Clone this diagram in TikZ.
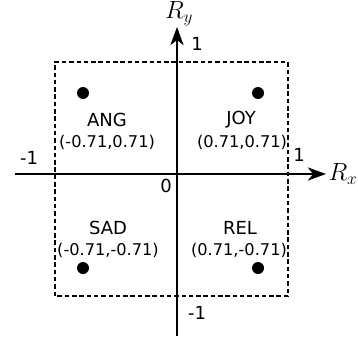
\documentclass[tikz,border=0pt]{standalone}
\usepackage{fontspec}
\setmainfont{DejaVu Sans}
\usetikzlibrary{arrows.meta}
\begin{document}
\begin{tikzpicture}[x=1pt,y=-1pt,
  axis/.style={line width=2.8pt,-{Stealth[length=18pt,width=13pt,inset=5pt]}},
  frame/.style={draw,line width=1.3pt,dash pattern=on 4.5pt off 2.8pt},
  dot/.style={circle,fill,inner sep=0pt,minimum size=12pt},
  emo/.style={font=\fontsize{18}{20}\selectfont,inner sep=0pt},
  crd/.style={font=\fontsize{16.2}{18}\selectfont,inner sep=0pt},
  tick/.style={font=\fontsize{18}{20}\selectfont,inner sep=0pt},
  axlab/.style={font=\fontsize{23}{25}\selectfont,inner sep=0pt}]
\useasboundingbox (0,0) rectangle (358,337);
\coordinate (bl) at (55,296);
\coordinate (tr) at (288,62);
\draw[frame] (bl) rectangle (tr);
\coordinate (xl) at (15,174);
\coordinate (xr) at (326,174);
\coordinate (yb) at (177,336);
\coordinate (yt) at (177,27);
\draw[axis] (xl) -- (xr);
\draw[axis] (yb) -- (yt);
\node[axlab] (Rx) at (343,174) {$R_x$};
\node[axlab] (Ry) at (179,14) {$R_y$};
\node[tick] (t1y) at (197,44) {1};
\node[tick] (tm1x) at (29,158) {-1};
\node[tick] (t1x) at (299,155) {1};
\node[tick] (t0) at (166,186) {0};
\node[tick] (tm1y) at (197,313) {-1};
\node[dot] (dang) at (83,93) {};
\node[dot] (djoy) at (258,93) {};
\node[dot] (dsad) at (83,268) {};
\node[dot] (drel) at (258,268) {};
\node[emo] (ang) at (107,120) {ANG};
\node[crd] (cang) at (107,142) {(-0.71,0.71)};
\node[emo] (joy) at (241,120) {JOY};
\node[crd] (cjoy) at (242,142) {(0.71,0.71)};
\node[emo] (sad) at (108,228) {SAD};
\node[crd] (csad) at (108,250) {(-0.71,-0.71)};
\node[emo] (rel) at (240,228) {REL};
\node[crd] (crel) at (239,250) {(0.71,-0.71)};
\end{tikzpicture}
\end{document}
